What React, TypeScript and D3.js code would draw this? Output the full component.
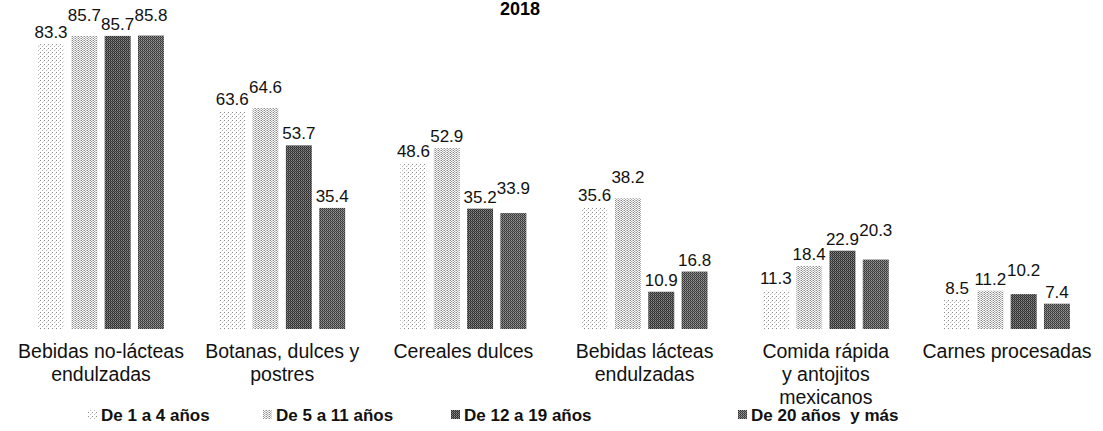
import React from "react";
import * as d3 from "d3";

const title = "2018";
const categories = [
  "Bebidas no-lácteas\nendulzadas",
  "Botanas, dulces y\npostres",
  "Cereales dulces",
  "Bebidas lácteas\nendulzadas",
  "Comida rápida\ny antojitos\nmexicanos",
  "Carnes procesadas",
];
const seriesNames = ["De 1 a 4 años", "De 5 a 11 años", "De 12 a 19 años", "De 20 años  y más"];
const v1to4 = [83.3, 63.6, 48.6, 35.6, 11.3, 8.5];
const v5to11 = [85.7, 64.6, 52.9, 38.2, 18.4, 11.2];
const v12to19 = [85.7, 53.7, 35.2, 10.9, 22.9, 10.2];
const v20plus = [85.8, 35.4, 33.9, 16.8, 20.3, 7.4];
const seriesValues = [v1to4, v5to11, v12to19, v20plus];

const W = 1103;
const H = 431;
const FONT = "'Liberation Sans', Arial, sans-serif";
const LABEL_SIZE = 17;

export default function App() {
  const x0 = d3
    .scaleBand<string>()
    .domain(categories)
    .range([10.4, 1097.6])
    .paddingInner(0.305)
    .paddingOuter(0.1525);
  const x1 = d3
    .scaleBand<string>()
    .domain(seriesNames)
    .range([0, x0.bandwidth()])
    .paddingInner(0.22)
    .paddingOuter(0);
  const y = d3.scaleLinear().domain([0, 90]).range([329, 329 - 90 * 3.42]);

  const patIds = ["p1", "p2", "p3", "p4"];
  const legendX = [88, 263, 451, 738];

  // value labels: lift a label that would collide with its (un-lifted) left neighbour
  const labelLayout = categories.map((cat, ci) => {
    const out: { x: number; y: number; y0: number; lifted: boolean; text: string }[] = [];
    seriesNames.forEach((s, si) => {
      const v = seriesValues[si][ci];
      const text = v.toFixed(1);
      const cx = x0(cat)! + x1(s)! + x1.bandwidth() / 2;
      const w = text.length * 0.52 * LABEL_SIZE;
      const y0 = y(v) - 6;
      let ly = y0;
      let lifted = false;
      const prev = out[si - 1];
      if (prev && !prev.lifted) {
        const pw = prev.text.length * 0.52 * LABEL_SIZE;
        const hGap = cx - w / 2 - (prev.x + pw / 2);
        if (hGap < 2 && Math.abs(prev.y0 - y0) < 9) {
          ly = Math.min(y0, prev.y0) - 9;
          lifted = true;
        }
      }
      out.push({ x: cx, y: ly, y0, lifted, text });
    });
    return out;
  });

  return (
    <div style={{ position: "absolute", left: 0, top: 0 }}>
      <svg width={W} height={H} style={{ display: "block", background: "#fff" }}>
        <defs>
          <pattern id="p1" width={4} height={4} patternUnits="userSpaceOnUse">
            <rect width={4} height={4} fill="#fff" />
            <rect x={0} y={0} width={1} height={1} fill="#8a8a8a" />
            <rect x={2} y={2} width={1} height={1} fill="#b8b8b8" />
            <rect x={3} y={1} width={1} height={1} fill="#e0e0e0" />
          </pattern>
          <pattern id="p2" width={3} height={2} patternUnits="userSpaceOnUse">
            <rect width={3} height={2} fill="#fff" />
            <rect x={0} y={0} width={1} height={1} fill="#888" />
            <rect x={2} y={0} width={1} height={1} fill="#c8c8c8" />
            <rect x={1} y={1} width={1} height={1} fill="#a4a4a4" />
            <rect x={2} y={1} width={1} height={1} fill="#ececec" />
          </pattern>
          <pattern id="p3" width={2} height={2} patternUnits="userSpaceOnUse">
            <rect x={0} y={0} width={1} height={1} fill="#2a2a2a" />
            <rect x={1} y={0} width={1} height={1} fill="#8a8a8a" />
            <rect x={0} y={1} width={1} height={1} fill="#666" />
            <rect x={1} y={1} width={1} height={1} fill="#3a3a3a" />
          </pattern>
          <pattern id="p4" width={2} height={2} patternUnits="userSpaceOnUse">
            <rect x={0} y={0} width={1} height={1} fill="#333" />
            <rect x={1} y={0} width={1} height={1} fill="#9a9a9a" />
            <rect x={0} y={1} width={1} height={1} fill="#777" />
            <rect x={1} y={1} width={1} height={1} fill="#444" />
          </pattern>
        </defs>

        <text x={520} y={15} textAnchor="middle" fontFamily={FONT} fontWeight="bold" fontSize={18} fill="#000">
          {title}
        </text>

        {categories.map((cat, ci) => (
          <g key={cat}>
            {seriesNames.map((s, si) => {
              const v = seriesValues[si][ci];
              return (
                <rect
                  key={s}
                  x={x0(cat)! + x1(s)!}
                  y={y(v)}
                  width={x1.bandwidth()}
                  height={y(0) - y(v)}
                  fill={`url(#${patIds[si]})`}
                />
              );
            })}
            {labelLayout[ci].map((l, si) => (
              <text
                key={si}
                x={l.x}
                y={l.y}
                textAnchor="middle"
                fontFamily={FONT}
                fontSize={LABEL_SIZE}
                fill="#111"
              >
                {l.text}
              </text>
            ))}
            <text
              x={x0(cat)! + x0.bandwidth() / 2}
              y={358}
              textAnchor="middle"
              fontFamily={FONT}
              fontSize={19.5}
              fill="#111"
            >
              {cat.split("\n").map((line, li) => (
                <tspan key={li} x={x0(cat)! + x0.bandwidth() / 2} dy={li === 0 ? 0 : 23}>
                  {line}
                </tspan>
              ))}
            </text>
          </g>
        ))}

        {seriesNames.map((s, si) => (
          <g key={s} transform={`translate(${legendX[si]},0)`}>
            <rect x={0} y={410} width={9} height={9} fill={`url(#${patIds[si]})`} />
            <text
              x={13}
              y={421}
              fontFamily={FONT}
              fontWeight="bold"
              fontSize={17}
              fill="#111"
              style={{ whiteSpace: "pre" }}
            >
              {s}
            </text>
          </g>
        ))}
      </svg>
    </div>
  );
}
